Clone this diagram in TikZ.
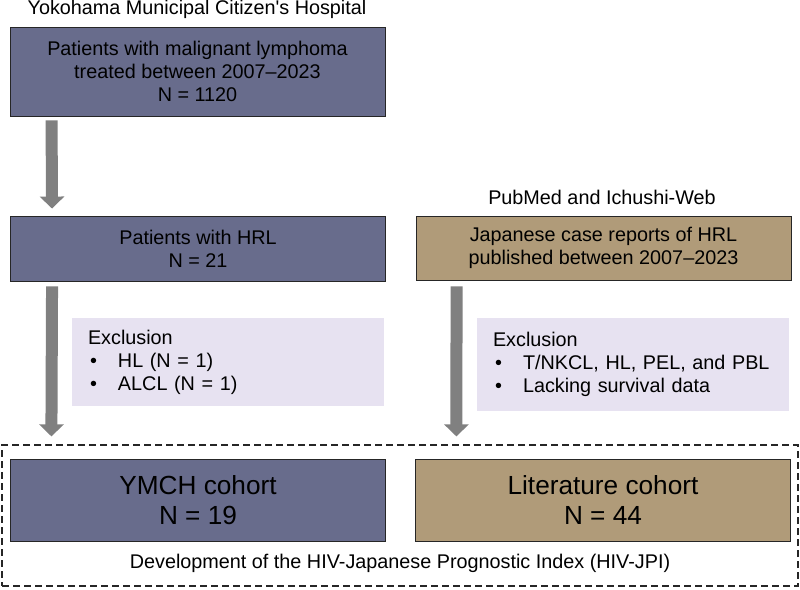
\documentclass[tikz,border=0pt]{standalone}
\usepackage{fontspec}
\setmainfont{Liberation Sans}
\usetikzlibrary{arrows.meta}
\definecolor{hospfill}{RGB}{104,108,140}
\definecolor{litfill}{RGB}{176,155,121}
\definecolor{exclfill}{RGB}{231,226,241}
\definecolor{flowgray}{RGB}{128,128,128}
\newcommand{\bul}{\hspace*{2pt}\makebox[28pt][l]{\textbullet}}

\begin{document}
\begin{tikzpicture}[x=1pt, y=-1pt,
  txt/.style={font=\fontsize{19.8}{23}\selectfont, align=center, inner sep=0pt},
  box/.style={txt, draw=black!85, line width=0.9pt, minimum width=375pt},
  hosp/.style={box, fill=hospfill},
  lit/.style={box, fill=litfill},
  big/.style={font=\fontsize{26.2}{30}\selectfont},
  excl/.style={txt, fill=exclfill, minimum width=312pt, text width=280pt, align=left},
  flow/.style={draw=flowgray, line width=12pt, -{Triangle[width=24pt,length=12pt]}}
]
  \useasboundingbox (0,0) rectangle (800,589);

  \node[txt] (ymchsrc) at (197,9) {Yokohama Municipal Citizen\textquotesingle s Hospital};
  \node[txt] (litsrc) at (602,197) {PubMed and Ichushi-Web};

  \node[hosp, minimum height=89pt] (allpts) at (197.5,71.5) {Patients with malignant lymphoma\\ treated between 2007--2023\\ N = 1120};
  \node[hosp, minimum height=65pt] (hrlpts) at (198,248.5) {Patients with HRL\\ N = 21};
  \node[lit, minimum height=64pt] (reports) at (603.5,248) {Japanese case reports of HRL\\ published between 2007--2023};

  \node[excl, minimum height=88pt] (exclymch) at (228,362) {Exclusion\\ \bul HL (N = 1)\\ \bul ALCL (N = 1)};
  \node[excl, minimum height=93pt] (excllit) at (633,364.5) {Exclusion\\ \bul T/NKCL, HL, PEL, and PBL\\ \bul Lacking survival data};

  \node[draw=black!85, line width=1.2pt, dash pattern=on 7pt off 4pt, minimum width=796pt, minimum height=141pt, inner sep=0pt] (jpi) at (400,515.5) {};
  \node[hosp, big, minimum height=82pt] (ymch) at (198,500) {YMCH cohort\\ N = 19};
  \node[lit, big, minimum height=82pt] (litcoh) at (603,500) {Literature cohort\\ N = 44};
  \node[txt] (jpilabel) at (400,563) {Development of the HIV-Japanese Prognostic Index (HIV-JPI)};

  \draw[flow] ([xshift=42pt,yshift=-4pt]allpts.south west) -- ([xshift=42pt,yshift=7pt]hrlpts.north west);
  \draw[flow] ([xshift=42pt,yshift=-5pt]hrlpts.south west) -- ([xshift=50pt,yshift=8pt]jpi.north west);
  \draw[flow] ([xshift=41pt,yshift=-6pt]reports.south west) -- ([xshift=455pt,yshift=8pt]jpi.north west);
\end{tikzpicture}
\end{document}
